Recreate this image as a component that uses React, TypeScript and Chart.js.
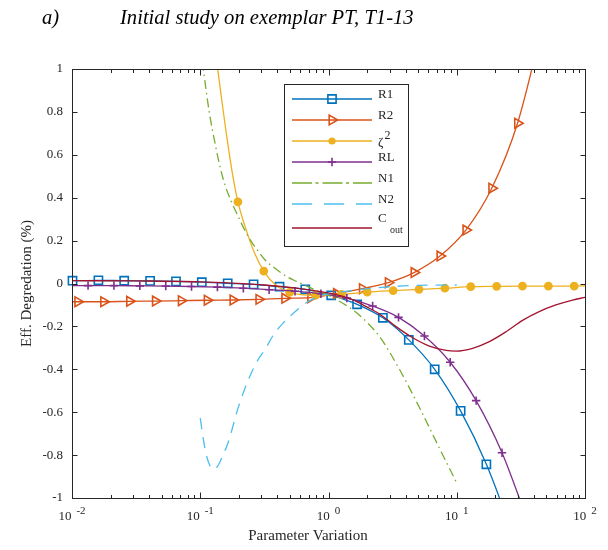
import React, { useEffect, useRef } from 'react';
import { Chart, registerables } from 'chart.js';

Chart.register(...registerables);

// ---- data ----
const r1X = [0.01009, 0.01607, 0.02553, 0.04064, 0.06471, 0.1028, 0.1637, 0.2606, 0.415, 0.6592, 1.05, 1.671, 2.655, 4.227, 6.73, 10.72, 17.02];
const r1Y = [0.013, 0.015, 0.013, 0.012, 0.01, 0.006, 0.001, -0.004, -0.015, -0.027, -0.055, -0.097, -0.16, -0.263, -0.4, -0.594, -0.843];
const r1LineX = [27.1];
const r1LineY = [-1.16];

const r2X = [0.01109, 0.01766, 0.02812, 0.04467, 0.07112, 0.1132, 0.1799, 0.2864, 0.456, 0.7261, 1.153, 1.837, 2.924, 4.645, 7.396, 11.78, 18.75, 29.79];
const r2Y = [-0.085, -0.085, -0.083, -0.082, -0.08, -0.078, -0.077, -0.074, -0.069, -0.066, -0.047, -0.024, 0.004, 0.051, 0.128, 0.249, 0.444, 0.747];
const r2LineX = [0.01, 47.4];
const r2LineY = [-0.085, 1.22];

const zetaX = [0.1966, 0.3128, 0.4977, 0.792, 1.26, 2.005, 3.191, 5.077, 8.079, 12.85, 20.46, 32.55, 51.8, 82.4];
const zetaY = [0.381, 0.058, -0.041, -0.055, -0.051, -0.04, -0.033, -0.027, -0.022, -0.015, -0.013, -0.012, -0.012, -0.012];
const zetaLineX = [0.1259, 0.1374, 0.1459, 0.1596, 0.1799, 0.2286, 0.2655, 0.3793, 100];
const zetaLineY = [1.17, 0.991, 0.871, 0.7, 0.498, 0.249, 0.141, -0.002, -0.011];

const rlX = [0.01334, 0.02123, 0.03381, 0.05383, 0.08551, 0.1361, 0.2168, 0.3443, 0.5483, 0.873, 1.39, 2.208, 3.516, 5.598, 8.89, 14.16, 22.54];
const rlY = [-0.01, -0.01, -0.011, -0.012, -0.014, -0.017, -0.022, -0.029, -0.036, -0.048, -0.068, -0.105, -0.158, -0.245, -0.367, -0.546, -0.789];
const rlLineX = [0.01, 35.89];
const rlLineY = [-0.01, -1.11];

const n1X = [0.1, 0.1062, 0.1175, 0.1318, 0.1445, 0.1578, 0.1738, 0.195, 0.2286, 0.257, 0.2904, 0.3177, 0.3802, 0.4266, 0.4797, 0.5623, 0.6761, 0.8511, 1.0, 1.374, 1.742, 2.495, 3.573, 5.117, 7.311, 9.886];
const n1Y = [1.12, 0.99, 0.8, 0.64, 0.53, 0.45, 0.385, 0.32, 0.235, 0.185, 0.142, 0.112, 0.072, 0.05, 0.03, 0.01, -0.012, -0.038, -0.056, -0.102, -0.148, -0.247, -0.4, -0.578, -0.767, -0.924];

const n2X = [0.1, 0.1045, 0.1102, 0.1183, 0.1271, 0.1368, 0.1469, 0.1596, 0.1694, 0.1968, 0.2427, 0.2812, 0.3177, 0.3793, 0.4406, 0.5598, 0.6902, 0.9036, 1.148, 1.459, 2.28, 4.276, 10];
const n2Y = [-0.628, -0.706, -0.786, -0.846, -0.865, -0.851, -0.814, -0.765, -0.72, -0.582, -0.435, -0.357, -0.31, -0.232, -0.186, -0.127, -0.085, -0.054, -0.043, -0.034, -0.021, -0.01, -0.007];

const coutX = [0.01, 0.03162, 0.1, 0.1778, 0.3162, 0.5623, 1.0, 1.538, 1.968, 2.495, 3.365, 4.539, 6.124, 8.26, 9.886, 13.3, 17.95, 24.21, 32.58, 43.95, 59.29, 79.98, 100];
const coutY = [0.013, 0.012, 0.008, 0.002, -0.007, -0.022, -0.044, -0.075, -0.108, -0.142, -0.201, -0.253, -0.292, -0.312, -0.315, -0.302, -0.271, -0.225, -0.172, -0.131, -0.1, -0.077, -0.065];

const yTickValues = [-1, -0.8, -0.6, -0.4, -0.2, 0, 0.2, 0.4, 0.6, 0.8, 1];
const xTickValues = [0.01, 0.1, 1, 10, 100];
const xTickExps = ['-2', '-1', '0', '1', '2'];

const titleTag = 'a)';
const titleText = 'Initial study on exemplar PT, T1-13';
const xTitle = 'Parameter Variation';
const yTitle = 'Eff. Degredation (%)';

// ---- styles ----
const SERIF = '"Liberation Serif", "Times New Roman", serif';
const AXIS = '#262626';

type Marker = 'rect' | 'triangle' | 'circle' | 'cross' | 'none';
interface SeriesDef {
  label: string;
  sup?: string;
  sub?: string;
  color: string;
  mx: number[];
  my: number[];
  lx: number[];
  ly: number[];
  marker: Marker;
  radius: number;
  dash: number[];
  legendDash: number[];
}

const series: SeriesDef[] = [
  { label: 'R1', color: '#0072BD', mx: r1X, my: r1Y, lx: r1LineX, ly: r1LineY, marker: 'rect', radius: 5.8, dash: [], legendDash: [] },
  { label: 'R2', color: '#D95319', mx: r2X, my: r2Y, lx: r2LineX, ly: r2LineY, marker: 'triangle', radius: 5.6, dash: [], legendDash: [] },
  { label: '\u03B6', sup: '2', color: '#EDB120', mx: zetaX, my: zetaY, lx: zetaLineX, ly: zetaLineY, marker: 'circle', radius: 3.6, dash: [], legendDash: [] },
  { label: 'RL', color: '#7E2F8E', mx: rlX, my: rlY, lx: rlLineX, ly: rlLineY, marker: 'cross', radius: 4.2, dash: [], legendDash: [] },
  { label: 'N1', color: '#77AC30', mx: [], my: [], lx: n1X, ly: n1Y, marker: 'none', radius: 0, dash: [9, 4, 1.5, 4], legendDash: [20, 3.5, 3, 4] },
  { label: 'N2', color: '#4DBEEE', mx: [], my: [], lx: n2X, ly: n2Y, marker: 'none', radius: 0, dash: [11, 8], legendDash: [20, 12] },
  { label: 'C', sub: 'out', color: '#A2142F', mx: [], my: [], lx: coutX, ly: coutY, marker: 'none', radius: 0, dash: [], legendDash: [] },
];

function buildPoints(s: SeriesDef) {
  const pts = s.mx.map((x, i) => ({ x, y: s.my[i], m: true }))
    .concat(s.lx.map((x, i) => ({ x, y: s.ly[i], m: false })));
  pts.sort((a, b) => a.x - b.x);
  return pts;
}

function drawMarker(ctx: CanvasRenderingContext2D, kind: Marker, x: number, y: number, r: number, color: string) {
  ctx.save();
  ctx.setLineDash([]);
  ctx.strokeStyle = color;
  ctx.fillStyle = color;
  ctx.lineWidth = 1.6;
  ctx.beginPath();
  if (kind === 'rect') {
    const h = r * Math.SQRT1_2;
    ctx.rect(x - h, y - h, 2 * h, 2 * h);
    ctx.stroke();
  } else if (kind === 'triangle') {
    ctx.moveTo(x + r, y);
    ctx.lineTo(x - r / 2, y - r * 0.866);
    ctx.lineTo(x - r / 2, y + r * 0.866);
    ctx.closePath();
    ctx.stroke();
  } else if (kind === 'circle') {
    ctx.arc(x, y, r, 0, Math.PI * 2);
    ctx.fill();
  } else if (kind === 'cross') {
    ctx.moveTo(x - r, y);
    ctx.lineTo(x + r, y);
    ctx.moveTo(x, y - r);
    ctx.lineTo(x, y + r);
    ctx.stroke();
  }
  ctx.restore();
}

const decorPlugin = {
  id: 'decor',
  afterDraw(chart: any) {
    const { ctx, chartArea: a, scales } = chart;
    const xs = scales.x;
    const ys = scales.y;
    ctx.save();

    // axes box
    ctx.strokeStyle = AXIS;
    ctx.lineWidth = 1;
    ctx.setLineDash([]);
    const L = Math.round(a.left) + 0.5;
    const R = Math.round(a.right) + 0.5;
    const T = Math.round(a.top) + 0.5;
    const B = Math.round(a.bottom) + 0.5;
    ctx.strokeRect(L, T, R - L, B - T);

    // inward ticks
    ctx.beginPath();
    for (const v of yTickValues) {
      const p = Math.round(ys.getPixelForValue(v)) + 0.5;
      ctx.moveTo(L, p); ctx.lineTo(L + 5, p);
      ctx.moveTo(R, p); ctx.lineTo(R - 5, p);
    }
    for (let d = 0; d < xTickValues.length; d++) {
      const base = xTickValues[d];
      const maxM = d === xTickValues.length - 1 ? 1 : 9;
      for (let m = 1; m <= maxM; m++) {
        const p = Math.round(xs.getPixelForValue(base * m)) + 0.5;
        const len = m === 1 ? 6 : 3.5;
        ctx.moveTo(p, B); ctx.lineTo(p, B - len);
        ctx.moveTo(p, T); ctx.lineTo(p, T + len);
      }
    }
    ctx.stroke();

    // x tick labels: 10 with raised exponent
    ctx.fillStyle = AXIS;
    ctx.textBaseline = 'middle';
    ctx.textAlign = 'left';
    xTickValues.forEach((v, i) => {
      const p = xs.getPixelForValue(v);
      ctx.font = `13px ${SERIF}`;
      const w1 = ctx.measureText('10').width;
      ctx.font = `11px ${SERIF}`;
      const w2 = ctx.measureText(xTickExps[i]).width;
      const gap = 5;
      const start = p - (w1 + gap + w2) / 2;
      ctx.font = `13px ${SERIF}`;
      ctx.fillText('10', start, 509);
      ctx.font = `11px ${SERIF}`;
      ctx.fillText(xTickExps[i], start + w1 + gap, 503);
    });

    // x axis title
    ctx.font = `15px ${SERIF}`;
    ctx.textAlign = 'center';
    ctx.fillText(xTitle, 300, 528);

    // chart title
    ctx.fillStyle = '#000';
    ctx.font = `italic 20.6px ${SERIF}`;
    ctx.textAlign = 'left';
    ctx.fillText(titleTag, 34, 11);
    ctx.fillText(titleText, 112, 11);

    // legend
    const bx = 276, by = 76, bw = 124, bh = 162;
    ctx.fillStyle = '#fff';
    ctx.fillRect(bx, by, bw, bh);
    ctx.strokeStyle = AXIS;
    ctx.lineWidth = 1;
    ctx.strokeRect(bx + 0.5, by + 0.5, bw, bh);
    const rowY = [91, 112, 133, 154, 175, 196, 220];
    series.forEach((s, i) => {
      const y = rowY[i];
      ctx.save();
      ctx.strokeStyle = s.color;
      ctx.lineWidth = 1.3;
      ctx.setLineDash(s.legendDash);
      ctx.beginPath();
      ctx.moveTo(284, y);
      ctx.lineTo(364, y);
      ctx.stroke();
      ctx.restore();
      if (s.marker !== 'none') drawMarker(ctx, s.marker, 324, y, s.radius, s.color);
      ctx.fillStyle = AXIS;
      ctx.textAlign = 'left';
      ctx.textBaseline = 'middle';
      ctx.font = `13px ${SERIF}`;
      const ty = s.sub ? y - 9 : y - 4;
      ctx.fillText(s.label, 370, s.sup ? y + 2 : ty);
      const w = ctx.measureText(s.label).width;
      if (s.sup) {
        ctx.font = `12px ${SERIF}`;
        ctx.fillText(s.sup, 370 + w + 1, y - 5);
      }
      if (s.sub) {
        ctx.font = `10px ${SERIF}`;
        ctx.fillText(s.sub, 382, y + 2);
      }
    });

    ctx.restore();
  },
};

export default function App() {
  const ref = useRef<HTMLCanvasElement>(null);

  useEffect(() => {
    const datasets = series.map((s, i) => ({
      label: s.sub ? s.label + s.sub : s.sup ? s.label + s.sup : s.label,
      data: buildPoints(s),
      showLine: true,
      borderColor: s.color,
      backgroundColor: s.color,
      borderWidth: 1.3,
      borderDash: s.dash,
      fill: false,
      cubicInterpolationMode: 'monotone' as const,
      capBezierPoints: false,
      pointStyle: s.marker === 'none' ? 'circle' : s.marker,
      pointRotation: s.marker === 'triangle' ? 90 : 0,
      pointRadius: (c: any) => (c.raw && c.raw.m ? s.radius : 0),
      pointHoverRadius: 0,
      pointBorderColor: s.color,
      pointBackgroundColor: s.marker === 'circle' ? s.color : 'rgba(0,0,0,0)',
      pointBorderWidth: 1.6,
      clip: { left: 10, right: 10, top: 0, bottom: 0 },
      order: series.length - 1 - i,
    }));

    const chart = new Chart(ref.current as HTMLCanvasElement, {
      type: 'scatter',
      data: { datasets },
      options: {
        responsive: false,
        animation: false,
        devicePixelRatio: 1,
        events: [],
        layout: { padding: { top: 61, right: 15, left: 0, bottom: 0 } },
        plugins: {
          legend: { display: false },
          tooltip: { enabled: false },
          title: { display: false },
        },
        scales: {
          x: {
            type: 'logarithmic',
            min: 0.01,
            max: 100,
            grid: { display: false, drawTicks: false },
            border: { display: false },
            ticks: { display: false },
            afterFit: (sc: any) => { sc.height = 44; },
          },
          y: {
            type: 'linear',
            min: -1,
            max: 1,
            grid: { display: false, drawTicks: false },
            border: { display: false },
            ticks: {
              stepSize: 0.2,
              padding: 9,
              color: AXIS,
              font: { family: SERIF, size: 13 },
              callback: (v: any) => String(Math.round(Number(v) * 10) / 10),
            },
            title: {
              display: true,
              text: yTitle,
              color: AXIS,
              font: { family: SERIF, size: 15 },
              padding: { top: 10, bottom: 0 },
            },
            afterFit: (sc: any) => { sc.width = 64; },
          },
        },
      } as any,
      plugins: [decorPlugin],
    });
    return () => chart.destroy();
  }, []);

  return (
    <div style={{ width: 592, height: 534 }}>
      <canvas ref={ref} width={592} height={534} style={{ display: 'block' }} />
    </div>
  );
}
